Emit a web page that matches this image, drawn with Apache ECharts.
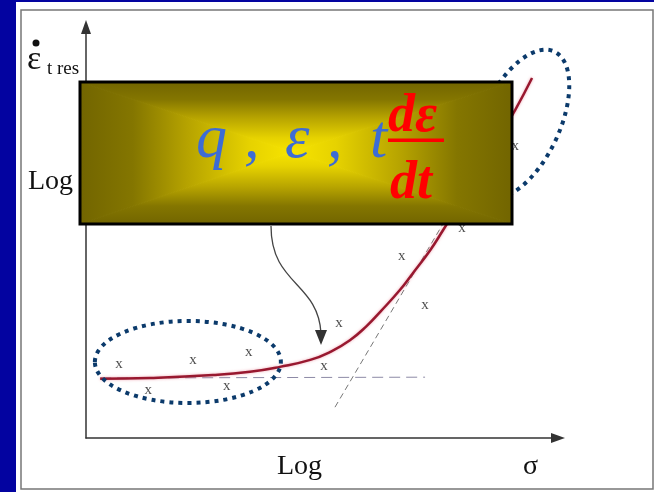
<!DOCTYPE html>
<html>
<head>
<meta charset="utf-8">
<script src="https://cdn.jsdelivr.net/npm/echarts@6/dist/echarts.min.js"></script>
<style>
  html, body { margin: 0; padding: 0; background: #0303a0; }
  #main { width: 654px; height: 492px; }
</style>
</head>
<body>
<div id="main"></div>
<script>
// log(sigma) on x, log(strain rate) on y, arbitrary units
var pointX = [0.84, 1.58, 2.72, 3.58, 4.14, 6.05, 6.43, 8.03, 8.62, 9.56, 10.91];
var pointY = [1.80, 1.17, 1.90, 1.27, 2.09, 1.75, 2.80, 4.43, 3.24, 5.11, 7.10];

var curveX = [0.36, 1.63, 3.23, 4.17, 4.93, 5.70, 6.20, 6.71, 7.14, 7.48, 7.98, 8.31, 8.75, 9.08, 9.51, 10.02, 10.53, 10.91, 11.34];
var curveY = [1.44, 1.46, 1.53, 1.61, 1.73, 1.90, 2.09, 2.38, 2.73, 3.07, 3.60, 4.01, 4.57, 5.06, 5.72, 6.52, 7.37, 7.98, 8.76];

var plateauX = [0.36, 8.62];
var plateauY = [1.46, 1.48];

var tangentX = [6.33, 9.13];
var tangentY = [0.75, 5.30];

function pairs(xs, ys) {
  var out = [];
  for (var i = 0; i < xs.length; i++) out.push([xs[i], ys[i]]);
  return out;
}

var chart = echarts.init(document.getElementById('main'));

var axisCommon = {
  type: 'value',
  splitLine: { show: false },
  axisTick: { show: false },
  axisLabel: { show: false },
  axisLine: {
    show: true,
    symbol: ['none', 'triangle'],
    symbolSize: [10, 14],
    lineStyle: { color: '#333', width: 1.5 }
  }
};

var option = {
  backgroundColor: '#0303a0',
  animation: false,
  grid: { left: 86, right: 96, top: 27, bottom: 54 },
  xAxis: Object.assign({}, axisCommon, { min: 0, max: 12 }),
  yAxis: Object.assign({}, axisCommon, { min: 0, max: 10 }),
  series: [
    {
      type: 'line',
      data: pairs(plateauX, plateauY),
      symbol: 'none',
      lineStyle: { color: '#8d8aa6', width: 1, type: [11, 6] },
      z: 2
    },
    {
      type: 'line',
      data: pairs(tangentX, tangentY),
      symbol: 'none',
      lineStyle: { color: '#777', width: 1, type: [6, 4] },
      z: 2
    },
    {
      type: 'line',
      data: pairs(curveX, curveY),
      smooth: true,
      symbol: 'none',
      lineStyle: {
        color: '#98182f', width: 2.5,
        shadowColor: 'rgba(230,110,130,0.6)', shadowBlur: 3
      },
      z: 3
    },
    {
      type: 'scatter',
      data: pairs(pointX, pointY),
      symbol: 'circle',
      symbolSize: 1,
      itemStyle: { color: 'rgba(0,0,0,0)' },
      label: {
        show: true,
        position: 'inside',
        formatter: 'x',
        color: '#222',
        fontFamily: 'Liberation Serif',
        fontSize: 15
      },
      z: 4
    }
  ]
};
chart.setOption(option);

var serif = "'Liberation Serif', 'DejaVu Serif', serif";
var e1 = chart.convertToPixel({ gridIndex: 0 }, [2.59, 1.85]);
var e2 = chart.convertToPixel({ gridIndex: 0 }, [11.09, 7.69]);

var stops = [
  { offset: 0, color: '#726500' },
  { offset: 0.25, color: '#847600' },
  { offset: 0.5, color: '#b5a200' },
  { offset: 0.8, color: '#e6d200' },
  { offset: 1, color: '#f7e400' }
];
function grad(x1, y1, x2, y2) {
  return new echarts.graphic.LinearGradient(x1, y1, x2, y2, stops, true);
}
var bx = 80, by = 82, bw = 432, bh = 142, cx = 292, cy = 152;

function tri(pts, g) {
  return { type: 'polygon', z: 90, shape: { points: pts }, style: { fill: g, stroke: g, lineWidth: 1 } };
}
function txt(s, x, y, font, fill, z) {
  return { type: 'text', z: z || 50, style: { text: s, x: x, y: y, font: font, fill: fill, verticalAlign: 'middle' } };
}
var blueFont = 'italic 62px ' + serif;
var redFont = 'italic bold 54px ' + serif;
var blue = '#3d6cd4';

chart.setOption({
  graphic: [
    { type: 'rect', z: -10, shape: { x: 16, y: 2, width: 640, height: 492 }, style: { fill: '#fff' } },
    { type: 'rect', z: -9, shape: { x: 21, y: 10, width: 632, height: 479 }, style: { fill: 'none', stroke: '#777', lineWidth: 1.5 } },

    txt('\u03b5', 27, 60, '34px ' + serif, '#111'),
    { type: 'circle', z: 50, shape: { cx: 36, cy: 43, r: 3.5 }, style: { fill: '#111' } },
    txt('t res', 47, 69, '19px ' + serif, '#111'),
    txt('Log', 28, 182, '28px ' + serif, '#111'),
    txt('Log', 277, 467, '28px ' + serif, '#111'),
    txt('\u03c3', 523, 467, '28px ' + serif, '#111'),

    { type: 'ellipse', z: 40, shape: { cx: e1[0], cy: e1[1], rx: 93, ry: 41 },
      style: { fill: 'none', stroke: '#0b3a6b', lineWidth: 4, lineDash: [4, 5] } },
    { type: 'ellipse', z: 40, x: e2[0] - 2, y: e2[1] + 2, rotation: -0.44, shape: { cx: 0, cy: 0, rx: 39, ry: 80 },
      style: { fill: 'none', stroke: '#0b3a6b', lineWidth: 4, lineDash: [4, 5] } },

    { type: 'bezierCurve', z: 40, shape: { x1: 271, y1: 226, cpx1: 271, cpy1: 285, cpx2: 318, cpy2: 282, x2: 321, y2: 333 },
      style: { fill: 'none', stroke: '#444', lineWidth: 1.3 } },
    { type: 'polygon', z: 40, shape: { points: [[315, 330], [327, 330], [321, 345]] }, style: { fill: '#333' } },

    tri([[bx, by], [bx + bw, by], [cx, cy]], grad(0, by, 0, cy)),
    tri([[bx, by + bh], [bx + bw, by + bh], [cx, cy]], grad(0, by + bh, 0, cy)),
    tri([[bx, by], [bx, by + bh], [cx, cy]], grad(bx, 0, cx, 0)),
    tri([[bx + bw, by], [bx + bw, by + bh], [cx, cy]], grad(bx + bw, 0, cx, 0)),
    { type: 'rect', z: 91, shape: { x: bx, y: by, width: bw, height: bh }, style: { fill: 'none', stroke: '#000', lineWidth: 3 } },

    txt('q', 196, 141, blueFont, blue, 95),
    txt(',', 244, 141, blueFont, blue, 95),
    txt('\u03b5', 285, 141, blueFont, blue, 95),
    txt(',', 327, 141, blueFont, blue, 95),
    txt('t', 370, 141, blueFont, blue, 95),
    txt('d\u03b5', 388, 117, redFont, '#ff0000', 96),
    { type: 'rect', z: 96, shape: { x: 388, y: 138.5, width: 56, height: 3.5 }, style: { fill: '#ff0000' } },
    txt('dt', 390, 184, redFont, '#ff0000', 96)
  ]
});
</script>
</body>
</html>
